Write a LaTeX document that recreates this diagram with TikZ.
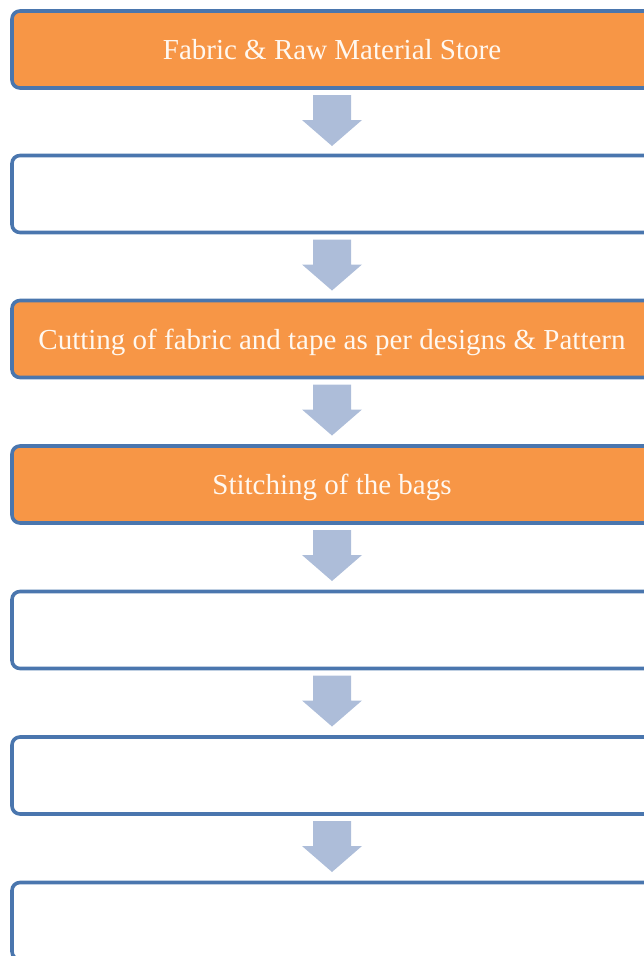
\documentclass[tikz,border=0pt]{standalone}
\usepackage{fontspec}
\setmainfont{Liberation Serif}
\definecolor{boxorange}{HTML}{F79646}
\definecolor{boxline}{HTML}{4A76AE}
\definecolor{arrowfill}{HTML}{ADBDD9}
\definecolor{textcream}{HTML}{FFF8F0}
\begin{document}
\begin{tikzpicture}[x=1pt,y=-1pt,
  stepbox/.style={draw=boxline, line width=3.6pt, rounded corners=8pt, minimum width=640pt, minimum height=77pt, anchor=north, inner sep=0pt, outer sep=0pt, text height=26pt, text depth=6pt, font=\fontsize{29}{32}\selectfont, text=textcream},
  filled/.style={fill=boxorange},
  empty/.style={fill=white},
  downarrow/.style={fill=arrowfill, draw=none}]
\useasboundingbox (0,0) rectangle (644,956);
\begin{scope}
\clip (0,0) rectangle (644,956);
\node[stepbox, filled] (b1) at (332,11) {Fabric \& Raw Material Store};
\node[stepbox, empty] (b2) at (332,155.5) {};
\node[stepbox, filled] (b3) at (332,300.5) {Cutting of fabric and tape as per designs \& Pattern};
\node[stepbox, filled] (b4) at (332,446) {Stitching of the bags};
\node[stepbox, empty] (b5) at (332,591.5) {};
\node[stepbox, empty] (b6) at (332,737) {};
\node[stepbox, empty] (b7) at (332,882.5) {};
\foreach \a/\b in {b1/b2,b2/b3,b3/b4,b4/b5,b5/b6,b6/b7}{
  \path (\a.south) ++(0,7) coordinate (s);
  \fill[downarrow] (s) ++(-19,0) -- ++(38,0) -- ++(0,25) -- ++(11,0) -- ++(-30,26) -- ++(-30,-26) -- ++(11,0) -- cycle;
}
\end{scope}
\end{tikzpicture}
\end{document}
